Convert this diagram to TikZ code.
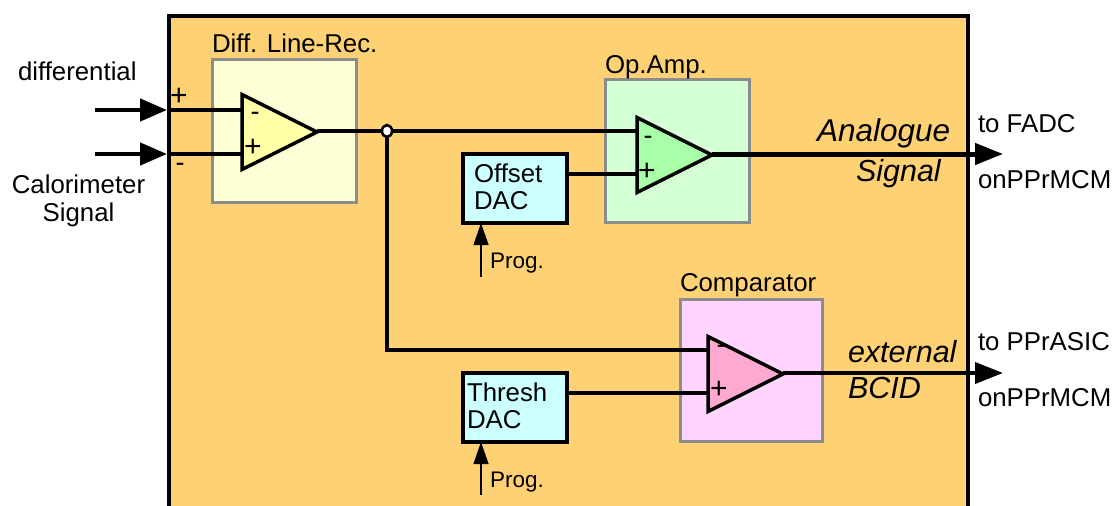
\documentclass[tikz,border=0pt]{standalone}
\usepackage{fontspec}
\setmainfont{Liberation Sans}
\usetikzlibrary{arrows.meta,shapes.geometric}
\definecolor{bg}{HTML}{FFD175}
\definecolor{edgegray}{HTML}{8C8C8C}
\definecolor{yellowbox}{HTML}{FFFFD5}
\definecolor{yellowamp}{HTML}{FFFFA8}
\definecolor{greenbox}{HTML}{D5FFD5}
\definecolor{greenamp}{HTML}{A8FFA8}
\definecolor{pinkbox}{HTML}{FFD5FF}
\definecolor{pinkamp}{HTML}{FFA8D0}
\definecolor{dacfill}{HTML}{CCFFFF}
\newcommand{\uptext}[1]{\raisebox{3pt}{#1}}
\tikzset{
  tx/.style={inner sep=0,outer sep=0,anchor=base west,font=\fontsize{25.8}{27}\selectfont},
  prog/.style={inner sep=0,outer sep=0,anchor=base west,font=\fontsize{22.5}{24}\selectfont},
  it/.style={inner sep=0,outer sep=0,anchor=base west,font=\fontsize{30.5}{32}\selectfont\itshape},
  plus/.style={inner sep=0,outer sep=0,anchor=base,font=\fontsize{30}{32}\selectfont},
  minus/.style={inner sep=0,outer sep=0,anchor=base,font=\fontsize{27}{28}\selectfont},
  graybox/.style={draw=edgegray,line width=3,inner sep=0,outer sep=0,minimum width=144,minimum height=143},
  dac/.style={draw=black,line width=3.5,fill=dacfill,outer sep=0,minimum width=104,minimum height=69,
     font=\fontsize{25.8}{27}\selectfont,align=left,inner ysep=0},
  amp/.style={isosceles triangle,isosceles triangle stretches,shape border rotate=0,draw=black,line width=3.5,
     line join=miter,inner sep=0,outer sep=0,minimum width=75,minimum height=75,anchor=apex},
  wire/.style={line width=3.5},
  bigarrow/.style={-{Triangle[length=27,width=22]},line width=4.5},
  outarrow/.style={-{Triangle[length=28,width=21]}},
  progarrow/.style={-{Triangle[length=22,width=15]},line width=1.3},
}
\begin{document}
\begin{tikzpicture}[x=1pt,y=-1pt]
\useasboundingbox (0,0) rectangle (1114,506);
\clip (0,0) rectangle (1114,506);
\node[draw=black,fill=bg,line width=3.5,inner sep=0,outer sep=0,minimum width=799,minimum height=520,anchor=north west] (outer) at (169,16) {};
% functional blocks
\node[graybox,fill=yellowbox] (diffbox) at (284.5,131) {};
\node[graybox,fill=greenbox] (opbox) at (677.5,151) {};
\node[graybox,fill=pinkbox,minimum width=142,minimum height=142] (cmpbox) at (751.5,370.5) {};
\node[dac,text width=82] (offset) at (515,188.5) {\uptext{Offset}\\\uptext{DAC}};
\node[dac,text width=96] (thresh) at (515,407.5) {\uptext{Thresh}\\\uptext{DAC}};
% connection points
\coordinate (inA) at (95,110);
\coordinate (inB) at (95,154);
\coordinate (edgeA) at (167,110);
\coordinate (edgeB) at (167,154);
\coordinate (diffA) at (244,110);
\coordinate (diffB) at (244,154);
\coordinate (opM) at (638,131);
\coordinate (opP) at (638,174);
\coordinate (cmpM) at (710,350);
\coordinate (cmpP) at (710,393);
\coordinate (dacO) at (568,174);
\coordinate (dacT) at (568,393);
\coordinate (apexD) at (317,132);
\coordinate (apexO) at (712,155);
\coordinate (apexC) at (783,374);
\coordinate (tapD) at (317,131);
\coordinate (tapO) at (712,154);
\coordinate (tapC) at (783,373);
\coordinate (bendA) at (976,154);
\coordinate (bendB) at (976,373);
\coordinate (outA) at (1003,154);
\coordinate (outB) at (1003,373);
\coordinate (progA) at (481,277);
\coordinate (progB) at (481,495);
\coordinate (splitdown) at (387,350);
\coordinate (split) at (387,131);
% connectors
\draw[bigarrow] (inA) -- (edgeA);
\draw[bigarrow] (inB) -- (edgeB);
\draw[wire] (edgeA) -- (diffA);
\draw[wire] (edgeB) -- (diffB);
\draw[wire] (tapD) -- (split);
\draw[wire] (split) -- (opM);
\draw[wire] (split) -- (splitdown) -- (cmpM);
\draw[wire] (dacO) -- (opP);
\draw[wire] (dacT) -- (cmpP);
\draw[line width=5] (tapO) -- (bendA);
\draw[outarrow,line width=4.5] (bendA) -- (outA);
\draw[line width=4] (tapC) -- (bendB);
\draw[outarrow,line width=4] (bendB) -- (outB);
\draw[progarrow] (progA) -- (offset.south -| progA);
\draw[progarrow] (progB) -- (thresh.south -| progB);
\node[draw=black,fill=white,line width=2.5,ellipse,inner sep=0,minimum width=10,minimum height=12] (junction) at (split) {};
% amplifiers
\node[amp,fill=yellowamp] (diffamp) at (apexD) {};
\node[amp,fill=greenamp] (opamp) at (apexO) {};
\node[amp,fill=pinkamp] (cmpamp) at (apexC) {};
% signs
\node[plus] (s1) at (179,105) {+};
\node[minus] (s2) at (180,171) {-};
\node[minus] (s3) at (255,120) {-};
\node[plus] (s4) at (253,156) {+};
\node[minus] (s5) at (648,144) {-};
\node[plus] (s6) at (647,180) {+};
\node[minus] (s7) at (721,353) {-};
\node[plus] (s8) at (719,398) {+};
% labels
\node[tx] (l1) at (18,80) {differential};
\node[tx,anchor=base] (l2) at (78.5,193) {Calorimeter};
\node[tx,anchor=base] (l3) at (78.5,221) {Signal};
\node[tx] (l4) at (212,52) {Diff. Line-Rec.};
\node[tx] (l5) at (605,73) {Op.Amp.};
\node[tx] (l6) at (680,291) {Comparator};
\node[prog] (p1) at (490,268) {Prog.};
\node[prog] (p2) at (490,487) {Prog.};
\node[it,font=\fontsize{31.5}{32}\selectfont\itshape] (i1) at (817,141) {Analogue};
\node[it] (i2) at (856,181) {Signal};
\node[it] (i3) at (848,362) {external};
\node[it] (i4) at (848,398) {BCID};
\node[tx] (r1) at (978,132) {to FADC};
\node[tx] (r2) at (978,188) {onPPrMCM};
\node[tx] (r3) at (978,350) {to PPrASIC};
\node[tx] (r4) at (978,406) {onPPrMCM};
\end{tikzpicture}
\end{document}
